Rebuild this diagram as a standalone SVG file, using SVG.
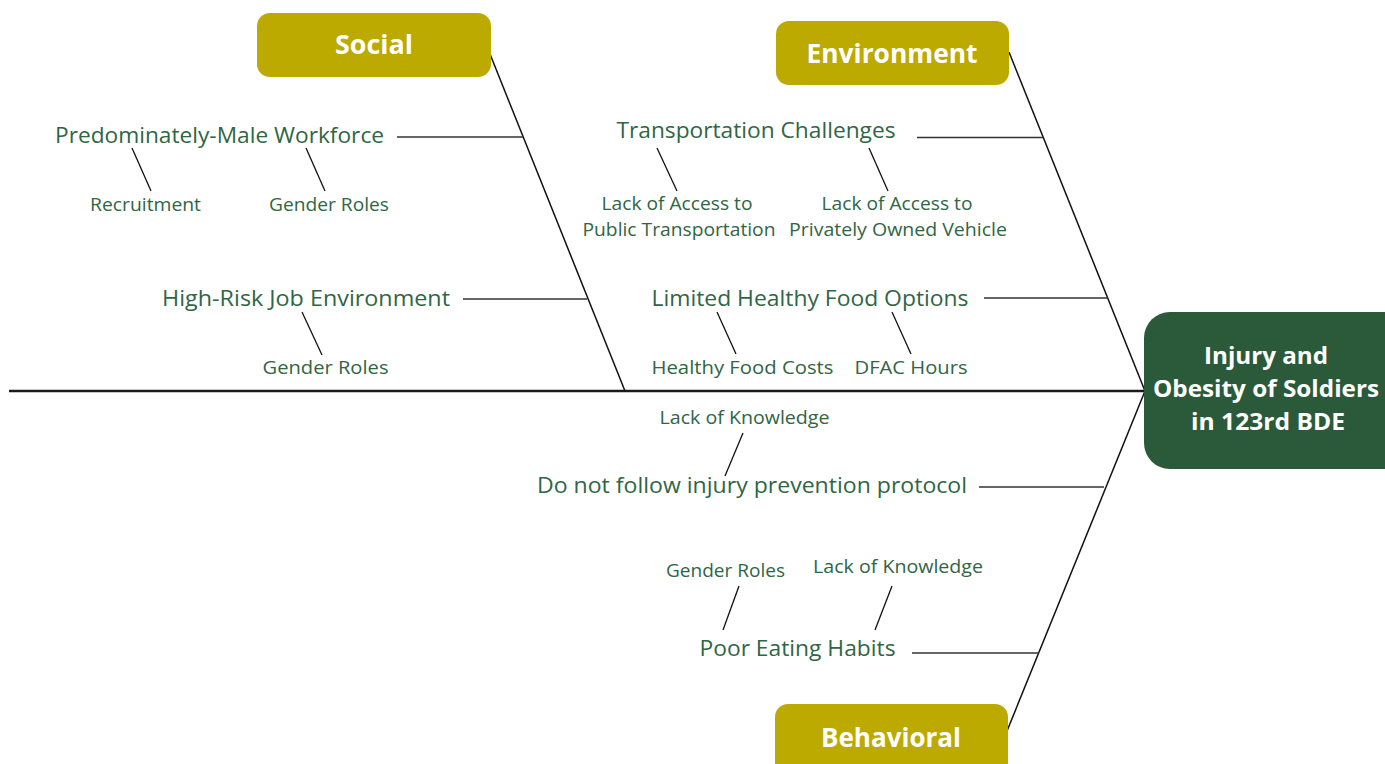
<svg xmlns="http://www.w3.org/2000/svg" width="1385" height="764" viewBox="0 0 1385 764">
<style>
.cat{fill:#bcaa00}
.head{fill:#2a5a3a}
.ct{font-family:"Open Sans","Noto Sans",sans-serif;font-weight:bold;fill:#fff;text-anchor:middle}
.t{font-family:"Open Sans","Noto Sans",sans-serif;fill:#2f6644;text-anchor:middle}
.m{font-size:22px}
.s{font-size:19px}
.bone{stroke:#111;stroke-width:1.5;fill:none}
.br{stroke:#333;stroke-width:1.6;fill:none}
.sub{stroke:#111;stroke-width:1.3;fill:none}
</style>
<rect width="1385" height="764" fill="#fff"/>
<g id="connectors">
<line x1="9" y1="391" x2="1145" y2="391" stroke="#1a1a1a" stroke-width="2.6"/>
<line class="bone" x1="490" y1="54" x2="625" y2="391"/>
<line class="bone" x1="1009" y1="52" x2="1145" y2="391"/>
<line class="bone" x1="1145" y1="391" x2="1007" y2="731"/>
<line class="br" x1="397" y1="137" x2="523" y2="137"/>
<line class="br" x1="463" y1="299" x2="587" y2="299"/>
<line class="br" x1="917" y1="137.5" x2="1043" y2="137.5"/>
<line class="br" x1="984" y1="298" x2="1108" y2="298"/>
<line class="br" x1="979" y1="487" x2="1104" y2="487"/>
<line class="br" x1="912" y1="653" x2="1039" y2="653"/>
<line class="sub" x1="132" y1="148" x2="151" y2="191"/>
<line class="sub" x1="306" y1="148" x2="325" y2="191"/>
<line class="sub" x1="302" y1="312" x2="322" y2="355"/>
<line class="sub" x1="657" y1="148" x2="677" y2="191"/>
<line class="sub" x1="869" y1="148" x2="888" y2="191"/>
<line class="sub" x1="717" y1="312" x2="736" y2="354"/>
<line class="sub" x1="892" y1="312" x2="911" y2="354"/>
<line class="sub" x1="743" y1="433" x2="725" y2="476"/>
<line class="sub" x1="739" y1="586" x2="723" y2="630"/>
<line class="sub" x1="892" y1="586" x2="875" y2="630"/>
</g>
<g id="head">
<rect class="head" x="1144" y="312" width="270" height="157" rx="26"/>
<text class="ct" x="1266" y="364" font-size="24" textLength="124" lengthAdjust="spacingAndGlyphs">Injury and</text>
<text class="ct" x="1266" y="397" font-size="24" textLength="226" lengthAdjust="spacingAndGlyphs">Obesity of Soldiers</text>
<text class="ct" x="1268" y="430" font-size="24" textLength="154" lengthAdjust="spacingAndGlyphs">in 123rd BDE</text>
</g>
<g id="social">
<rect class="cat" x="257" y="13" width="234" height="64" rx="13"/>
<text class="ct" x="374" y="54" font-size="27" textLength="78" lengthAdjust="spacingAndGlyphs">Social</text>
</g>
<g id="environment">
<rect class="cat" x="776" y="21" width="233" height="64" rx="13"/>
<text class="ct" x="892" y="63" font-size="27" textLength="171" lengthAdjust="spacingAndGlyphs">Environment</text>
</g>
<g id="behavioral">
<rect class="cat" x="775" y="704" width="233" height="75" rx="13"/>
<text class="ct" x="891" y="747" font-size="27" textLength="140" lengthAdjust="spacingAndGlyphs">Behavioral</text>
</g>
<g id="male-workforce">
<text class="t m" x="219.5" y="143" textLength="329" lengthAdjust="spacingAndGlyphs">Predominately-Male Workforce</text>
</g>
<g id="recruitment"><text class="t s" x="145.5" y="211" textLength="111" lengthAdjust="spacingAndGlyphs">Recruitment</text></g>
<g id="gender-roles-1"><text class="t s" x="329" y="211" textLength="120" lengthAdjust="spacingAndGlyphs">Gender Roles</text></g>
<g id="high-risk"><text class="t m" x="306" y="306" textLength="288" lengthAdjust="spacingAndGlyphs">High-Risk Job Environment</text></g>
<g id="gender-roles-2"><text class="t s" x="325.5" y="374" textLength="126" lengthAdjust="spacingAndGlyphs">Gender Roles</text></g>
<g id="transportation"><text class="t m" x="756" y="138" textLength="279" lengthAdjust="spacingAndGlyphs">Transportation Challenges</text></g>
<g id="public-transport">
<text class="t s" x="677" y="210" textLength="151" lengthAdjust="spacingAndGlyphs">Lack of Access to</text>
<text class="t s" x="679" y="236" textLength="193" lengthAdjust="spacingAndGlyphs">Public Transportation</text>
</g>
<g id="private-vehicle">
<text class="t s" x="897" y="210" textLength="151" lengthAdjust="spacingAndGlyphs">Lack of Access to</text>
<text class="t s" x="898" y="236" textLength="218" lengthAdjust="spacingAndGlyphs">Privately Owned Vehicle</text>
</g>
<g id="healthy-food"><text class="t m" x="810" y="306" textLength="317" lengthAdjust="spacingAndGlyphs">Limited Healthy Food Options</text></g>
<g id="food-costs"><text class="t s" x="742.5" y="374" textLength="182" lengthAdjust="spacingAndGlyphs">Healthy Food Costs</text></g>
<g id="dfac"><text class="t s" x="911" y="374" textLength="113" lengthAdjust="spacingAndGlyphs">DFAC Hours</text></g>
<g id="lack-knowledge-1"><text class="t s" x="744.5" y="424" textLength="170" lengthAdjust="spacingAndGlyphs">Lack of Knowledge</text></g>
<g id="injury-protocol"><text class="t m" x="752" y="493" textLength="430" lengthAdjust="spacingAndGlyphs">Do not follow injury prevention protocol</text></g>
<g id="gender-roles-3"><text class="t s" x="725.5" y="577" textLength="119" lengthAdjust="spacingAndGlyphs">Gender Roles</text></g>
<g id="lack-knowledge-2"><text class="t s" x="898" y="573" textLength="170" lengthAdjust="spacingAndGlyphs">Lack of Knowledge</text></g>
<g id="eating-habits"><text class="t m" x="797.5" y="656" textLength="196" lengthAdjust="spacingAndGlyphs">Poor Eating Habits</text></g>
</svg>
